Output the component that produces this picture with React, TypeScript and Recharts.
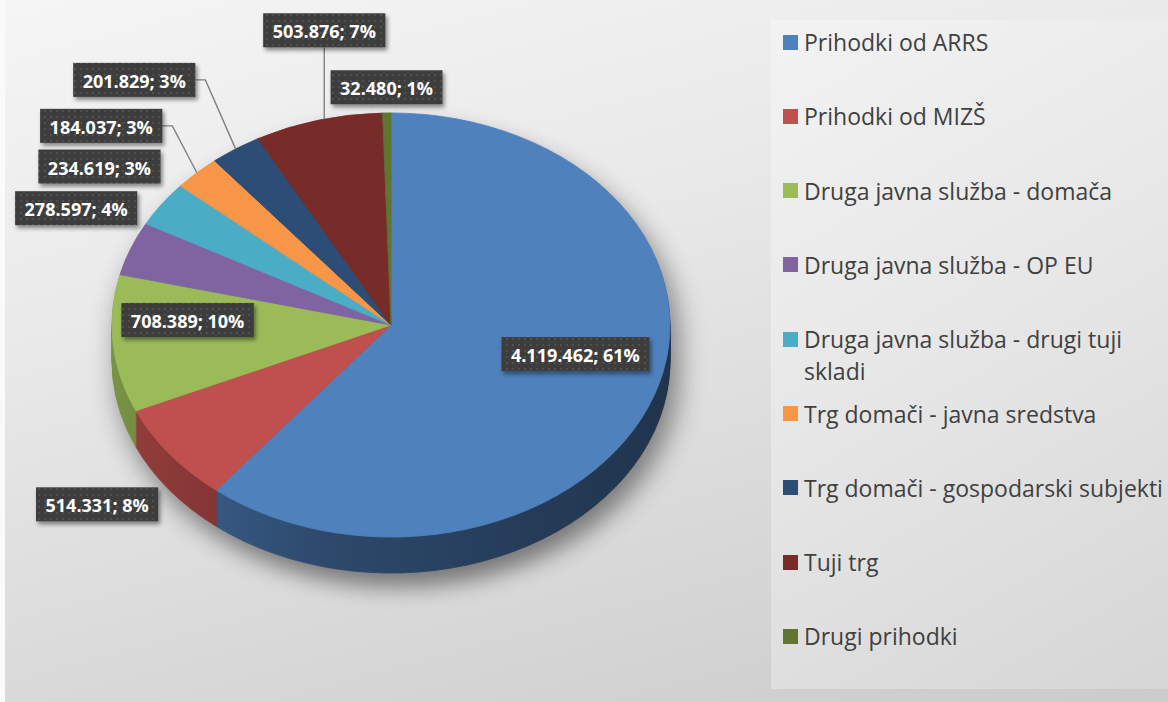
import React from 'react';
import { PieChart, Pie, Cell, Legend } from 'recharts';

const categories = [
  'Prihodki od ARRS',
  'Prihodki od MIZŠ',
  'Druga javna služba - domača',
  'Druga javna služba - OP EU',
  'Druga javna služba - drugi tuji skladi',
  'Trg domači - javna sredstva',
  'Trg domači - gospodarski subjekti',
  'Tuji trg',
  'Drugi prihodki',
];
const amounts = [4119462, 514331, 708389, 278597, 234619, 184037, 201829, 503876, 32480];
// percentages as printed on the labels
const shownPercents = [61, 8, 10, 4, 3, 3, 3, 7, 1];

const COLORS = ['#4F81BD', '#C0504D', '#9BBB59', '#8064A2', '#4BACC6', '#F79646', '#2C4D75', '#772C2A', '#5F7530'];

// label placement: distance from centre (in radii) and small angle nudge (deg)
const LABEL_DIST = [0.69, 1.39, 0.73, 1.23, 1.25, 1.36, 1.43, 1.35, 1.06];
const LABEL_NUDGE = [2.7, 3.2, -2.1, -2.3, 1.5, 5.7, 6.2, -4.9, 0];
const LEADER = [false, false, false, false, false, true, true, true, false];

const W = 1168;
const H = 702;
const CX = 391;
const CY = 325;
const R = 279;
const TILT = 0.76;
const DEPTH = 36;
const LABEL_LIFT = 13;
const PIE_W = 800;
const PIE_H = Math.ceil((CY + DEPTH + R * TILT + 50) / TILT);
const RAD = Math.PI / 180;
const FONT = "'Segoe UI', 'Open Sans', sans-serif";

const data = categories.map((name, i) => ({ name, value: amounts[i] }));

const shade = (hex: string, f: number) => {
  const n = parseInt(hex.slice(1), 16);
  const c = [(n >> 16) & 255, (n >> 8) & 255, n & 255].map(v => Math.round(v * f));
  return `rgb(${c[0]},${c[1]},${c[2]})`;
};

// side wall = stack of darker pies pushed down a little each
const layers = Array.from({ length: 18 }, (_, i) => DEPTH - i * 2);

const fmt = (v: number) => String(v).replace(/\B(?=(\d{3})+(?!\d))/g, '.');

let ctx: CanvasRenderingContext2D | null = null;
const measure = (t: string) => {
  if (!ctx) ctx = document.createElement('canvas').getContext('2d');
  if (!ctx) return t.length * 9.5;
  ctx.font = `bold 18px ${FONT}`;
  return ctx.measureText(t).width;
};

const renderLabel = (props: any) => {
  const { cx, cy, midAngle, outerRadius, index, value } = props;
  const a = (midAngle + LABEL_NUDGE[index]) * RAD;
  const k = LABEL_DIST[index];
  const lx = cx + k * outerRadius * Math.cos(a);
  const ly = cy - LABEL_LIFT - k * outerRadius * TILT * Math.sin(a);
  const text = `${fmt(value)}; ${shownPercents[index]}%`;
  const w = measure(text) + 19;
  const h = 34;

  let line = null;
  if (LEADER[index]) {
    const m = midAngle * RAD;
    if (Math.abs(Math.cos(m)) < 0.35) {
      const dx = (lx - cx) / outerRadius;
      const edge = cy - outerRadius * TILT * Math.sqrt(Math.max(0, 1 - dx * dx));
      line = <path d={`M${lx},${ly + h / 2} L${lx},${edge}`} stroke="#808080" strokeWidth={1.4} fill="none" />;
    } else {
      const ax = cx + outerRadius * Math.cos(m);
      const ay = cy - outerRadius * TILT * Math.sin(m);
      const ex = lx + w / 2;
      line = <path d={`M${ex},${ly} L${ex + 10},${ly} L${ax},${ay}`} stroke="#808080" strokeWidth={1.4} fill="none" />;
    }
  }

  return (
    <g>
      {line}
      <rect x={lx - w / 2} y={ly - h / 2} width={w} height={h} fill="url(#lblDots)" filter="url(#lblShadow)" />
      <text
        x={lx}
        y={ly + 1}
        textAnchor="middle"
        dominantBaseline="central"
        fill="#ffffff"
        fontFamily={FONT}
        fontWeight={700}
        fontSize={18}
      >
        {text}
      </text>
    </g>
  );
};

const renderLegend = () => (
  <div
    style={{
      position: 'relative',
      width: 397,
      height: 669,
      background: 'linear-gradient(150deg, #f3f3f3 0%, #e6e6e6 50%, #d6d6d6 100%)',
      fontFamily: FONT,
    }}
  >
    {categories.map((name, i) => (
      <div
        key={name}
        style={{ position: 'absolute', left: 12, top: 22 + i * 74.3 - 16, display: 'flex', alignItems: 'flex-start' }}
      >
        <span style={{ width: 15, height: 15, background: COLORS[i], marginTop: 8.5, marginRight: 6, flex: 'none' }} />
        <span style={{ width: 366, lineHeight: '32px', fontSize: 23, color: '#404040' }}>{name}</span>
      </div>
    ))}
  </div>
);

export default function App() {
  return (
    <div style={{ position: 'absolute', left: 0, top: 0, width: W, height: H, background: '#fafafa', overflow: 'hidden' }}>
      <svg width="0" height="0" style={{ position: 'absolute' }}>
        <defs>
          <pattern id="lblDots" width="6" height="6" patternUnits="userSpaceOnUse">
            <rect width="6" height="6" fill="#3e3e3e" />
            <circle cx="3" cy="3" r="0.9" fill="#585858" />
          </pattern>
          <filter id="lblShadow" x="-20%" y="-40%" width="150%" height="190%">
            <feDropShadow dx="2" dy="3" stdDeviation="2" floodColor="#000" floodOpacity="0.45" />
          </filter>
          {COLORS.map((c, i) => (
            <linearGradient key={c} id={`side${i}`} gradientUnits="userSpaceOnUse" x1={CX - R} y1="0" x2={CX + R} y2="0">
              <stop offset="0" stopColor={shade(c, 0.78)} />
              <stop offset="0.4" stopColor={shade(c, 0.56)} />
              <stop offset="1" stopColor={shade(c, 0.4)} />
            </linearGradient>
          ))}
        </defs>
      </svg>

      {/* chart background */}
      <div
        style={{
          position: 'absolute',
          left: 5,
          top: 0,
          width: W - 5,
          height: H,
          background: 'linear-gradient(165deg, #f5f5f5 0%, #e9e9e9 35%, #cbcbcb 100%)',
        }}
      />

      {/* the pie, squashed vertically to look tilted */}
      <div
        style={{
          position: 'absolute',
          left: 0,
          top: 0,
          width: PIE_W,
          height: PIE_H,
          transform: `scaleY(${TILT})`,
          transformOrigin: '0 0',
          filter: 'drop-shadow(7px 18px 14px rgba(0,0,0,0.45))',
        }}
      >
        <PieChart width={PIE_W} height={PIE_H} margin={{ top: 0, right: 0, bottom: 0, left: 0 }}>
          {layers.map(d => (
            <Pie
              key={`side-${d}`}
              data={data}
              dataKey="value"
              nameKey="name"
              cx={CX}
              cy={(CY + d) / TILT}
              outerRadius={R}
              startAngle={90}
              endAngle={-270}
              isAnimationActive={false}
            >
              {data.map((_, i) => (
                <Cell key={i} fill={`url(#side${i})`} stroke={`url(#side${i})`} strokeWidth={1} />
              ))}
            </Pie>
          ))}
          <Pie
            data={data}
            dataKey="value"
            nameKey="name"
            cx={CX}
            cy={CY / TILT}
            outerRadius={R}
            startAngle={90}
            endAngle={-270}
            isAnimationActive={false}
          >
            {data.map((_, i) => (
              <Cell key={i} fill={COLORS[i]} stroke={COLORS[i]} strokeWidth={1} />
            ))}
          </Pie>
        </PieChart>
      </div>

      {/* labels + legend at true scale */}
      <div style={{ position: 'absolute', left: 0, top: 0 }}>
        <PieChart width={W} height={H} margin={{ top: 0, right: 0, bottom: 0, left: 0 }}>
          <Pie
            data={data}
            dataKey="value"
            nameKey="name"
            cx={CX}
            cy={CY}
            outerRadius={R}
            startAngle={90}
            endAngle={-270}
            isAnimationActive={false}
            stroke="none"
            label={renderLabel}
            labelLine={false}
          >
            {data.map((_, i) => (
              <Cell key={i} fill={COLORS[i]} fillOpacity={0} stroke="none" />
            ))}
          </Pie>
          <Legend
            content={renderLegend}
            wrapperStyle={{ left: 771, top: 20, bottom: 'auto', width: 397, height: 669 }}
          />
        </PieChart>
      </div>
    </div>
  );
}
